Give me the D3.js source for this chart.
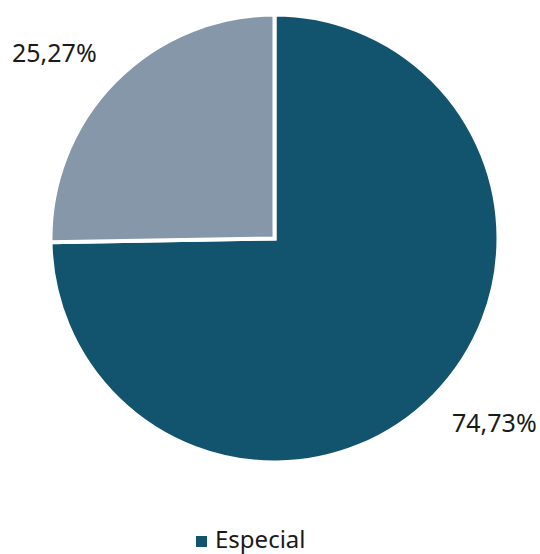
<!DOCTYPE html>
<html>
<head>
<meta charset="utf-8">
<script src="https://cdn.jsdelivr.net/npm/d3@7/dist/d3.min.js"></script>
<style>
  html, body { margin: 0; padding: 0; background: #ffffff; }
  svg { display: block; }
  text { font-family: "Noto Sans", "DejaVu Sans", sans-serif; fill: #1a1a1a; }
</style>
</head>
<body>
<svg id="chart" width="540" height="554"></svg>
<script>
// Share of each category (percent)
const categories = ["Especial", "Outros"];
const values = [74.73, 25.27];
const colors = ["#12536e", "#8597a8"];
const legendItems = ["Especial"];

const svg = d3.select("#chart");
const cx = 274.5, cy = 238.5, radius = 224;

const pie = d3.pie().sort(null).value(d => d.value);
const arcs = pie(categories.map((c, i) => ({ name: c, value: values[i], color: colors[i] })));

const arc = d3.arc().innerRadius(0).outerRadius(radius);

const g = svg.append("g").attr("transform", `translate(${cx},${cy})`);

g.selectAll("path.slice")
  .data(arcs)
  .join("path")
  .attr("class", "slice")
  .attr("d", arc)
  .attr("fill", d => d.data.color)
  .attr("stroke", "#ffffff")
  .attr("stroke-width", 4)
  .attr("stroke-linejoin", "miter");

// Percentage labels outside the pie
const fmt = v => d3.format(".2f")(v).replace(".", ",") + "%";
const labelPos = [
  { x: 452, y: 432 },
  { x: 12, y: 62 }
];
svg.selectAll("text.pct")
  .data(arcs)
  .join("text")
  .attr("class", "pct")
  .attr("x", (d, i) => labelPos[i].x)
  .attr("y", (d, i) => labelPos[i].y)
  .attr("font-size", 25)
  .text(d => fmt(d.data.value));

// Legend
const legend = svg.append("g").attr("transform", "translate(196,536)");
legendItems.forEach((name, i) => {
  const idx = categories.indexOf(name);
  legend.append("rect")
    .attr("x", 0).attr("y", 0)
    .attr("width", 11).attr("height", 11)
    .attr("fill", colors[idx]);
  legend.append("text")
    .attr("x", 19).attr("y", 12)
    .attr("font-size", 24)
    .attr("fill", "#1a1a1a")
    .text(name);
});
</script>
</body>
</html>
